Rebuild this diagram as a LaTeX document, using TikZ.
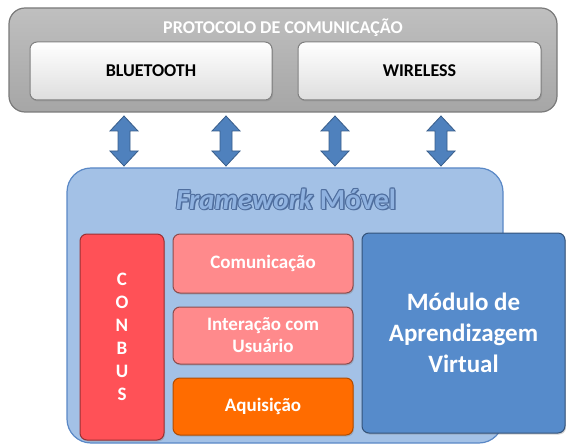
\documentclass[tikz,border=0pt]{standalone}
\usepackage{fontspec}
\setmainfont{Carlito}
\usetikzlibrary{positioning,shadows}

\definecolor{protofill}{HTML}{A6A6A6}
\definecolor{protoline}{HTML}{7A7A7A}
\definecolor{fwfill}{HTML}{A3C1E6}
\definecolor{fwline}{HTML}{5A88C6}
\definecolor{fwdark}{HTML}{4F6E9E}
\definecolor{fwtext}{HTML}{8FB2E0}
\definecolor{arrowblue}{HTML}{4F81BD}
\definecolor{arrowline}{HTML}{385D8A}
\definecolor{conbusred}{HTML}{FF5157}
\definecolor{modpink}{HTML}{FF8A8C}
\definecolor{aqorange}{HTML}{FF6C00}
\definecolor{modblue}{HTML}{568BCB}

\begin{document}
\begin{tikzpicture}[x=1pt,y=-1pt,
    box/.style={draw, rounded corners=7pt, line width=1pt, inner sep=0pt,
      align=center, text=white, font=\bfseries\fontsize{19}{22}\selectfont,
      drop shadow={shadow xshift=1pt, shadow yshift=-1.5pt, opacity=0.35}},
    greybox/.style={box, draw=black!50, top color=white, bottom color=black!13,
      text=black, font=\bfseries\fontsize{18}{20}\selectfont},
    arr/.style={draw=arrowline, fill=arrowblue, line width=0.8pt, line join=miter}
  ]
  \useasboundingbox (0,0) rectangle (566,444);

  % protocolo
  \node [draw=protoline, line width=1.2pt, rounded corners=16pt, top color=black!25,
    bottom color=protofill, minimum width=548pt, minimum height=104pt]
    (proto) at (283,60) {};
  \node [text=white, font=\bfseries\fontsize{18}{20}\selectfont] (protolabel) at (283,28)
    {PROTOCOLO DE COMUNICAÇÃO};
  \node [greybox, minimum width=242pt, minimum height=58pt] (bt) at (151,71) {BLUETOOTH};
  \node [greybox, minimum width=243pt, minimum height=58pt, right=25pt of bt] (wl) {WIRELESS};

  % framework
  \node [draw=fwline, line width=1.2pt, rounded corners=24pt, fill=fwfill,
    minimum width=436pt, minimum height=275pt] (fw) at (285,305.5) {};
  \foreach \dx/\dy [count=\i] in {-1/0,1/0,0/-1,0/1,-0.8/-0.8,0.8/0.8,-0.8/0.8,0.8/-0.8,1.5/1.5}
    \node [text=fwdark, font=\bfseries\fontsize{29}{32}\selectfont] (fwshadow\i)
      at (286+\dx,199+\dy) {\textit{Framework} Móvel};
  \node [text=fwtext, font=\bfseries\fontsize{29}{32}\selectfont] (fwtitle)
    at (286,199) {\textit{Framework} Móvel};

  \node [box, draw=conbusred!60!black, fill=conbusred, minimum width=84pt,
    minimum height=206pt, font=\bfseries\fontsize{19}{23}\selectfont] (conbus)
    at (122,337) {C\\O\\N\\B\\U\\S};
  \node [box, draw=modpink!55!black, fill=modpink, minimum width=180pt,
    minimum height=59pt] (com) at (263,263.5) {Comunicação};
  \node [box, draw=modpink!55!black, fill=modpink, minimum width=180pt,
    minimum height=57pt, below=13pt of com] (int) {Interação com\\Usuário};
  \node [box, draw=aqorange!70!black, fill=aqorange, minimum width=180pt,
    minimum height=57pt, below=13pt of int] (aq) {Aquisição};
  \node [box, draw=modblue!60!black, fill=modblue, minimum width=203pt,
    minimum height=200pt, font=\bfseries\fontsize{25}{31}\selectfont]
    (mod) at (463.5,333) {Módulo de\\Aprendizagem\\Virtual};

  % setas
  \foreach \x in {124,226,335,441}
    \draw [arr] (\x,116) -- ++(14,15) -- ++(-8,0) -- ++(0,20) -- ++(8,0)
      -- ++(-14,15) -- ++(-14,-15) -- ++(8,0) -- ++(0,-20) -- ++(-8,0) -- cycle;
\end{tikzpicture}
\end{document}
